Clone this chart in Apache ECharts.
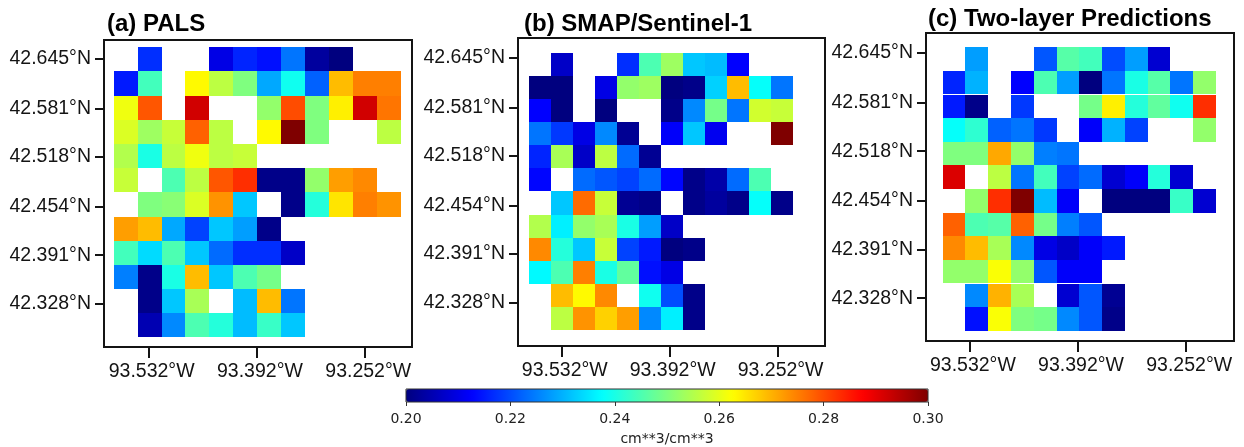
<!DOCTYPE html>
<html>
<head>
<meta charset="utf-8">
<title>Soil moisture maps</title>
<script src="https://cdn.jsdelivr.net/npm/echarts@6/dist/echarts.min.js"></script>
<style>
  html, body { margin: 0; padding: 0; background: #fff; }
  #chart { width: 1244px; height: 447px; }
</style>
</head>
<body>
<div id="chart"></div>
<script>
const lonTicks = [93.532, 93.392, 93.252]
const latTicks = [42.645, 42.581, 42.518, 42.454, 42.391, 42.328]
const colorbarTicks = [0.20, 0.22, 0.24, 0.26, 0.28, 0.30]
const jetColors = ['#00007f', '#0000ff', '#007fff', '#00ffff', '#7fff7f', '#ffff00', '#ff7f00', '#ff0000', '#7f0000']

// cell centres, degrees west / north
const palsLons = [93.5616, 93.5307, 93.4998, 93.4689, 93.4380, 93.4071, 93.3762, 93.3453, 93.3144, 93.2835, 93.2526, 93.2217]
const palsLats = [42.6444, 42.6131, 42.5818, 42.5505, 42.5192, 42.4879, 42.4566, 42.4253, 42.3940, 42.3627, 42.3314, 42.3001]
const smapLons = [93.5603, 93.5317, 93.5031, 93.4745, 93.4459, 93.4173, 93.3887, 93.3601, 93.3315, 93.3029, 93.2743, 93.2457]
const smapLats = [42.6365, 42.6066, 42.5767, 42.5468, 42.5169, 42.4870, 42.4571, 42.4272, 42.3973, 42.3674, 42.3375, 42.3076]
const predLons = [93.5526, 93.5231, 93.4936, 93.4641, 93.4346, 93.4051, 93.3756, 93.3461, 93.3166, 93.2871, 93.2576, 93.2281]
const predLats = [42.6371, 42.6066, 42.5760, 42.5455, 42.5149, 42.4844, 42.4538, 42.4233, 42.3927, 42.3622, 42.3316, 42.3011]

const _ = null
const palsValues = [
  [_, .217, _, _, .210, .216, .214, .224, .203, .200, _, _],
  [.215, .244, _, .263, .256, .250, .229, .239, .222, .269, .275, .275],
  [.261, .279, _, .292, _, _, .252, .280, .250, .264, .292, .276],
  [.259, .253, .257, .278, .256, _, .263, .300, .250, _, _, .256],
  [.255, .240, .256, .261, .256, .257, _, _, _, _, _, _],
  [.257, _, .245, .256, .279, .283, .201, .201, .252, .272, .274, _],
  [_, .250, .251, .259, .273, .232, _, .201, .241, .265, .275, .273],
  [.272, .269, .229, .219, .232, .228, .201, _, _, _, _, _],
  [.244, .234, .245, .232, .223, .217, .217, .207, _, _, _, _],
  [.225, .201, .240, .269, .232, .245, .249, _, _, _, _, _],
  [_, .201, .232, .254, _, .231, .269, .224, _, _, _, _],
  [_, .205, .226, .245, .241, .231, .243, .232, _, _, _, _]
]
const smapValues = [
  [_, .207, _, _, .217, .245, .253, .232, .231, .2125, _, _],
  [.200, .200, _, .210, .252, .253, .200, .201, .233, .269, .238, .224],
  [.2125, .200, _, .200, _, _, .201, .226, .249, .224, .258, .257],
  [.224, .218, .210, .226, .202, _, .212, .232, .211, _, _, .300],
  [.216, .254, .207, .256, .223, .202, _, _, _, _, _, _],
  [.213, _, .223, .221, .219, .223, .213, .201, .204, .223, .245, _],
  [_, .232, .277, .257, .202, .201, _, .201, .203, .201, .238, .201],
  [.255, .236, .252, .254, .240, .228, .207, _, _, _, _, _],
  [.274, .241, .232, .257, .219, .215, .200, .201, _, _, _, _],
  [.237, .245, .275, .240, .247, .214, .210, _, _, _, _, _],
  [_, .269, .263, .274, _, .239, .220, .201, _, _, _, _],
  [_, .256, .273, .267, .272, .226, .236, .201, _, _, _, _]
]
const predValues = [
  [_, .228, _, _, .221, .246, .244, .220, .228, .208, _, _],
  [.216, .230, _, .2125, .245, .228, .200, .224, .240, .246, .224, .252],
  [.215, .201, _, .218, _, _, .249, .264, .241, .247, .239, .283],
  [.238, .242, .222, .224, .218, _, .212, .230, .219, _, _, .252],
  [.250, .250, .271, .252, .225, .224, _, _, _, _, _, _],
  [.291, _, .256, .224, .244, .219, .223, .208, .212, .241, .208, _],
  [_, .252, .283, .300, .231, .212, _, .200, .200, .200, .243, .208],
  [.278, .245, .246, .278, .249, .225, .221, _, _, _, _, _],
  [.274, .269, .254, .226, .210, .207, .212, .215, _, _, _, _],
  [.252, .252, .262, .252, .221, .212, .212, _, _, _, _, _],
  [_, .226, .270, .254, _, .208, .221, .202, _, _, _, _],
  [_, .214, .262, .250, .249, .226, .221, .201, _, _, _, _]
]

const panels = [
  { title: '(a) PALS', lons: palsLons, lats: palsLats, values: palsValues,
    box: { left: 104, top: 40, width: 308, height: 307 }, titlePos: { left: 107, top: 12 },
    lonRange: [93.1915, 93.5897], latRange: [42.2721, 42.6695] },
  { title: '(b) SMAP/Sentinel-1', lons: smapLons, lats: smapLats, values: smapValues,
    box: { left: 518, top: 38, width: 307, height: 308 }, titlePos: { left: 524, top: 12 },
    lonRange: [93.1905, 93.5888], latRange: [42.272, 42.6708] },
  { title: '(c) Two-layer Predictions', lons: predLons, lats: predLats, values: predValues,
    box: { left: 926, top: 33, width: 308, height: 308 }, titlePos: { left: 928, top: 7 },
    lonRange: [93.1901, 93.5888], latRange: [42.2726, 42.6708] }
]

const INK = '#141414'
const labelFont = '"Liberation Sans", Arial, sans-serif'
const barFont = '"DejaVu Sans", sans-serif'

function toCells(panel) {
  const cells = []
  panel.values.forEach((row, r) => {
    row.forEach((v, c) => {
      if (v !== null) cells.push([panel.lons[c], panel.lats[r], v])
    })
  })
  return cells
}

function renderCell(panel) {
  const dLon = panel.lons[0] - panel.lons[1]
  const dLat = panel.lats[0] - panel.lats[1]
  return (params, api) => {
    const lon = api.value(0)
    const lat = api.value(1)
    const a = api.coord([lon + dLon / 2, lat + dLat / 2])
    const b = api.coord([lon - dLon / 2, lat - dLat / 2])
    const x = Math.round(a[0])
    const y = Math.round(a[1])
    return {
      type: 'rect',
      shape: { x, y, width: Math.round(b[0]) - x, height: Math.round(b[1]) - y },
      style: { fill: api.visual('color') }
    }
  }
}

const chart = echarts.init(document.getElementById('chart'))

chart.setOption({
  animation: false,
  backgroundColor: '#fff',
  title: panels.map((p) => ({
    text: p.title,
    left: p.titlePos.left,
    top: p.titlePos.top,
    padding: 0,
    textStyle: { color: '#000', fontFamily: labelFont, fontWeight: 'bold', fontSize: 24 }
  })),
  grid: panels.map((p) => ({
    ...p.box,
    show: true,
    z: 5,
    outerBoundsMode: 'none',
    backgroundColor: 'transparent',
    borderColor: INK,
    borderWidth: 2
  })).concat([{
    left: 406, top: 389, width: 522, height: 13, show: true, z: 6,
    outerBoundsMode: 'none',
    backgroundColor: 'transparent', borderColor: '#333', borderWidth: 1
  }]),
  xAxis: panels.map((p, i) => ({
    type: 'value',
    gridIndex: i,
    inverse: true,
    min: p.lonRange[0],
    max: p.lonRange[1],
    splitLine: { show: false },
    axisLine: { show: false },
    axisTick: { customValues: lonTicks, length: 11, lineStyle: { color: INK, width: 2 } },
    axisLabel: {
      customValues: lonTicks,
      margin: 15,
      padding: [0, 0, 0, 6],
      color: INK,
      fontFamily: labelFont,
      fontSize: 19.5,
      formatter: (v) => v.toFixed(3) + '°W'
    }
  })).concat([{
    type: 'value',
    gridIndex: 3,
    min: 0.2,
    max: 0.3,
    name: 'cm**3/cm**3',
    nameLocation: 'middle',
    nameGap: 30,
    nameTextStyle: { color: '#222', fontFamily: barFont, fontSize: 14 },
    splitLine: { show: false },
    axisLine: { show: false },
    axisTick: { customValues: colorbarTicks, length: 4, lineStyle: { color: '#333', width: 1 } },
    axisLabel: {
      customValues: colorbarTicks,
      margin: 10,
      color: '#222',
      fontFamily: barFont,
      fontSize: 14,
      showMinLabel: true,
      showMaxLabel: true,
      formatter: (v) => v.toFixed(2)
    }
  }]),
  yAxis: panels.map((p, i) => ({
    type: 'value',
    gridIndex: i,
    min: p.latRange[0],
    max: p.latRange[1],
    splitLine: { show: false },
    axisLine: { show: false },
    axisTick: { customValues: latTicks, length: 9, lineStyle: { color: INK, width: 2 } },
    axisLabel: {
      customValues: latTicks,
      margin: 13,
      color: INK,
      fontFamily: labelFont,
      fontSize: 19.5,
      formatter: (v) => v.toFixed(3) + '°N'
    }
  })).concat([{ type: 'value', gridIndex: 3, show: false, min: 0, max: 1 }]),
  visualMap: {
    type: 'continuous',
    min: 0.2,
    max: 0.3,
    dimension: 2,
    seriesIndex: [0, 1, 2],
    orient: 'horizontal',
    left: 406,
    top: 389,
    padding: 0,
    itemWidth: 13,
    itemHeight: 522,
    text: null,
    showLabel: false,
    calculable: false,
    realtime: false,
    hoverLink: false,
    inRange: { color: jetColors }
  },
  series: panels.map((p, i) => ({
    type: 'custom',
    name: p.title,
    xAxisIndex: i,
    yAxisIndex: i,
    coordinateSystem: 'cartesian2d',
    renderItem: renderCell(p),
    encode: { x: 0, y: 1, tooltip: 2 },
    data: toCells(p)
  }))
})
</script>
</body>
</html>
